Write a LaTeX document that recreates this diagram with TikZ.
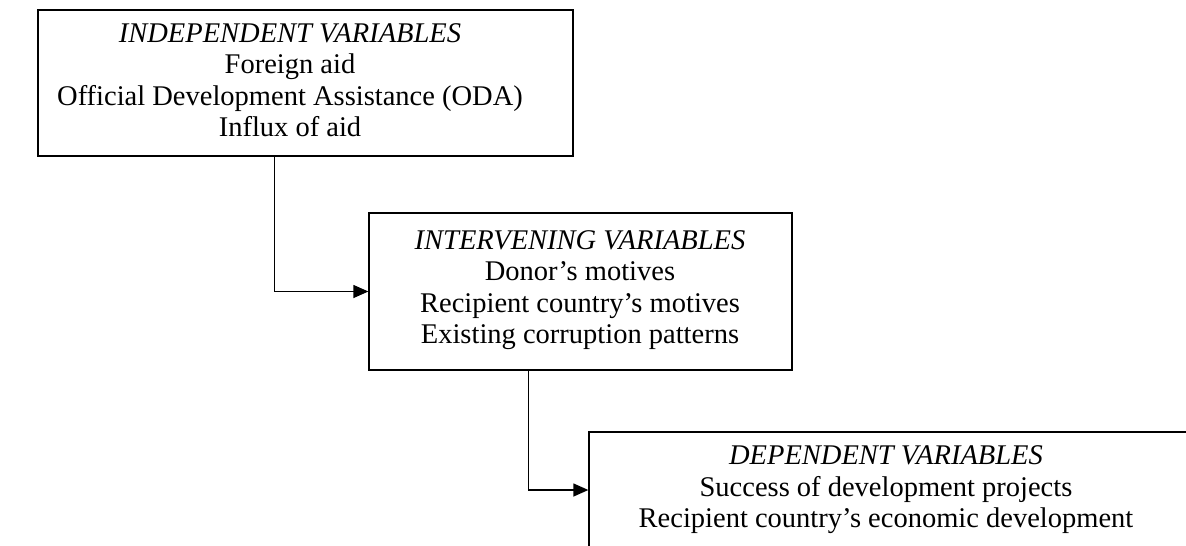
\documentclass[tikz,border=0pt]{standalone}
\usepackage{fontspec}
\setmainfont{Liberation Serif}
\usepackage{tikz}
\usetikzlibrary{positioning,arrows.meta}

\tikzset{
	varbox/.style={draw, line width=1.3pt, align=center, inner sep=0pt},
	vartext/.style={align=center, inner sep=0pt, font=\fontsize{28.5}{31.5}\selectfont},
	link/.style={line width=1.3pt, -{Triangle[length=15pt,width=13pt]}}
}

\begin{document}
\begin{tikzpicture}[x=1pt,y=-1pt]
	\useasboundingbox (0,0) rectangle (1186,546);
	\clip (0,0) rectangle (1186,546);
	% boxes
	\node[varbox, minimum width=535pt, minimum height=146pt] (indep) at (305.5,83) {};
	\node[vartext] (indeptext) at (290,80) {\textit{INDEPENDENT VARIABLES}\\Foreign aid\\Official Development Assistance (ODA)\\Influx of aid};
	\node[varbox, minimum width=423pt, minimum height=157pt] (interv) at (580.5,291.5) {};
	\node[vartext] (intervtext) at (580,290) {\textit{INTERVENING VARIABLES}\\Donor’s motives\\Recipient country’s motives\\Existing corruption patterns};
	\node[varbox, minimum width=700pt, minimum height=200pt] (dep) at (939,532) {};
	\node[vartext] (deptext) at (886,490) {\textit{DEPENDENT VARIABLES}\\Success of development projects\\Recipient country’s economic development};
	% links
	\draw[link] ([xshift=237pt]indep.south west) |- (interv.west);
	\draw[link] ([xshift=160pt]interv.south west) |- (dep.west |- deptext);
\end{tikzpicture}
\end{document}
